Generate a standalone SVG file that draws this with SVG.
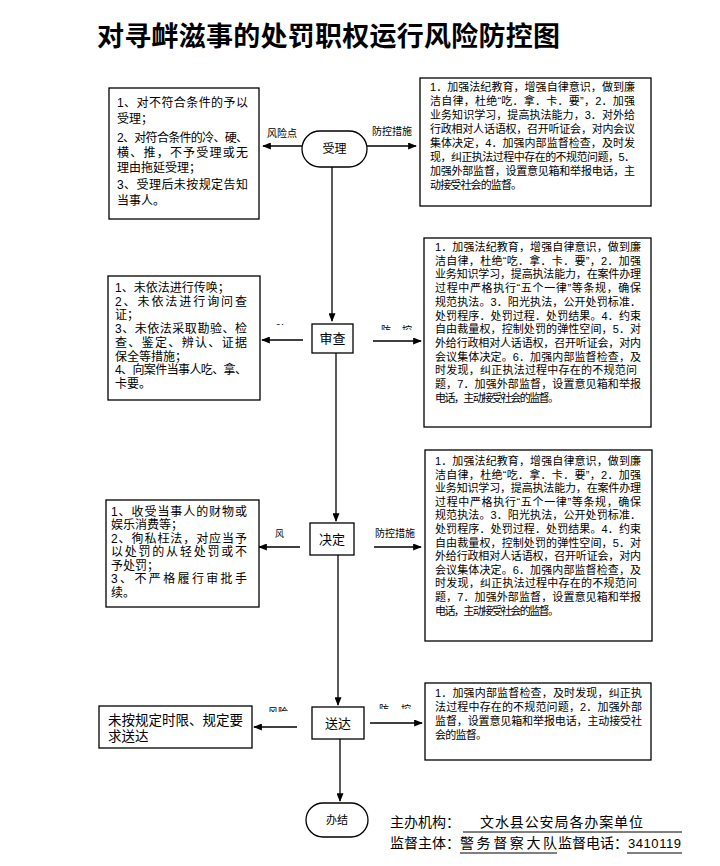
<svg xmlns="http://www.w3.org/2000/svg" width="720" height="866" viewBox="0 0 720 866">
<style>
.t{font-family:"Liberation Sans","Noto Sans CJK SC","Noto Sans CJK JP",sans-serif;fill:#000}
.l{font-size:12px}
.r{font-size:11px}
.n{font-size:13px}
.s{font-size:10px}
.box{fill:#fff;stroke:#000;stroke-width:1.3}
.ln{fill:none;stroke:#000;stroke-width:1.3}
.ul{stroke:#000;stroke-width:1}
</style>
<defs>
<marker id="ah" viewBox="0 0 10 8" refX="9" refY="4" markerWidth="9" markerHeight="7" markerUnits="userSpaceOnUse" orient="auto">
<path d="M0,0 L10,4 L0,8 Z" fill="#000"/>
</marker>
<clipPath id="c1"><rect x="276" y="319" width="10" height="6"/></clipPath>
<clipPath id="c2"><rect x="378" y="324" width="40" height="6"/></clipPath>
<clipPath id="c3"><rect x="264" y="706" width="30" height="6"/></clipPath>
<clipPath id="c4"><rect x="376" y="703" width="40" height="6"/></clipPath>
</defs>
<rect width="720" height="866" fill="#fff"/>

<text class="t" x="97" y="46" font-size="27" font-weight="bold" textLength="463">对寻衅滋事的处罚职权运行风险防控图</text>

<g id="connectors">
<path class="ln" d="M332,167 V321" marker-end="url(#ah)"/>
<path class="ln" d="M336,353 V521" marker-end="url(#ah)"/>
<path class="ln" d="M338,555 V705" marker-end="url(#ah)"/>
<path class="ln" d="M340,739 V801" marker-end="url(#ah)"/>
<path class="ln" d="M302,146 H263" marker-end="url(#ah)"/>
<path class="ln" d="M367,146 H416" marker-end="url(#ah)"/>
<path class="ln" d="M303,340 H262" marker-end="url(#ah)"/>
<path class="ln" d="M373,341 H421" marker-end="url(#ah)"/>
<path class="ln" d="M300,547 H259" marker-end="url(#ah)"/>
<path class="ln" d="M374,547 H421" marker-end="url(#ah)"/>
<path class="ln" d="M297,727 H254" marker-end="url(#ah)"/>
<path class="ln" d="M370,723 H422" marker-end="url(#ah)"/>
<text class="t s" x="282" y="137" text-anchor="middle">风险点</text>
<text class="t s" x="392" y="135" text-anchor="middle">防控措施</text>
<text class="t s" x="281" y="333" text-anchor="middle" clip-path="url(#c1)">风险点</text>
<g clip-path="url(#c2)"><text class="t s" x="381" y="334">防</text><text class="t s" x="402" y="334">控</text></g>
<text class="t" x="275" y="537" font-size="9">风</text>
<text class="t s" x="395" y="537" text-anchor="middle">防控措施</text>
<text class="t s" x="278" y="716" text-anchor="middle" clip-path="url(#c3)">风险</text>
<g clip-path="url(#c4)"><text class="t s" x="379" y="713">防</text><text class="t s" x="401" y="713">控</text></g>
</g>

<g id="n-accept">
<rect class="box" x="302" y="131" width="65" height="36" rx="18"/>
<text class="t" x="334.5" y="153" font-size="12" text-anchor="middle">受理</text>
</g>
<g id="n-review">
<rect class="box" x="312" y="324" width="41" height="29"/>
<text class="t n" x="332.5" y="343" text-anchor="middle">审查</text>
</g>
<g id="n-decide">
<rect class="box" x="310" y="523" width="44" height="32"/>
<text class="t n" x="332" y="544" text-anchor="middle">决定</text>
</g>
<g id="n-deliver">
<rect class="box" x="312" y="707" width="52" height="32"/>
<text class="t n" x="338" y="728" text-anchor="middle">送达</text>
</g>
<g id="n-close">
<rect class="box" x="306" y="803" width="62" height="34" rx="17"/>
<text class="t" x="337" y="824" font-size="11" text-anchor="middle">办结</text>
</g>

<g id="risk-accept">
<rect class="box" x="109" y="88" width="150" height="131"/>
<text class="t l"><tspan x="117" y="106.5" textLength="131">1、对不符合条件的予以</tspan><tspan x="117" y="122.5">受理；</tspan><tspan x="117" y="141.5" textLength="131">2、对符合条件的冷、硬、</tspan><tspan x="117" y="156.5" textLength="131">横、推，不予受理或无</tspan><tspan x="117" y="172">理由拖延受理；</tspan><tspan x="117" y="188.5" textLength="131">3、受理后未按规定告知</tspan><tspan x="117" y="204.5">当事人。</tspan></text>
</g>
<g id="ctrl-accept">
<rect class="box" x="420" y="78" width="231" height="128"/>
<text class="t r"><tspan x="430" y="91" textLength="205">1．加强法纪教育，增强自律意识，做到廉</tspan><tspan x="430" y="105" textLength="205">洁自律，杜绝“吃．拿．卡．要”，2．加强</tspan><tspan x="430" y="119" textLength="205">业务知识学习，提高执法能力，3．对外给</tspan><tspan x="430" y="133" textLength="205">行政相对人话语权，召开听证会，对内会议</tspan><tspan x="430" y="147" textLength="205">集体决定，4．加强内部监督检查，及时发</tspan><tspan x="430" y="161" textLength="205">现，纠正执法过程中存在的不规范问题，5．</tspan><tspan x="430" y="175" textLength="205">加强外部监督，设置意见箱和举报电话，主</tspan><tspan x="430" y="189" textLength="92">动接受社会的监督。</tspan></text>
</g>

<g id="risk-review">
<rect class="box" x="108" y="276" width="152" height="124"/>
<text class="t l"><tspan x="115" y="292">1、未依法进行传唤；</tspan><tspan x="115" y="305.7" textLength="132">2、未依法进行询问查</tspan><tspan x="115" y="319.4">证；</tspan><tspan x="115" y="333.1" textLength="132">3、未依法采取勘验、检</tspan><tspan x="115" y="346.8" textLength="132">查、鉴定、辨认、证据</tspan><tspan x="115" y="360.5">保全等措施；</tspan><tspan x="115" y="374.2" textLength="132">4、向案件当事人吃、拿、</tspan><tspan x="115" y="387.9">卡要。</tspan></text>
</g>
<g id="ctrl-review">
<rect class="box" x="424" y="238" width="227" height="189"/>
<text class="t r"><tspan x="435" y="251" textLength="206">1．加强法纪教育，增强自律意识，做到廉</tspan><tspan x="435" y="264.7" textLength="206">洁自律，杜绝“吃．拿．卡．要”，2．加强</tspan><tspan x="435" y="278.4" textLength="206">业务知识学习，提高执法能力，在案件办理</tspan><tspan x="435" y="292.1" textLength="206">过程中严格执行“五个一律”等条规，确保</tspan><tspan x="435" y="305.8" textLength="206">规范执法。3．阳光执法，公开处罚标准．</tspan><tspan x="435" y="319.5" textLength="206">处罚程序．处罚过程．处罚结果。4．约束</tspan><tspan x="435" y="333.2" textLength="206">自由裁量权，控制处罚的弹性空间，5．对</tspan><tspan x="435" y="346.9" textLength="206">外给行政相对人话语权，召开听证会，对内</tspan><tspan x="435" y="360.6" textLength="206">会议集体决定。6．加强内部监督检查，及</tspan><tspan x="435" y="374.3" textLength="202">时发现，纠正执法过程中存在的不规范问</tspan><tspan x="435" y="388" textLength="206">题，7．加强外部监督，设置意见箱和举报</tspan><tspan x="435" y="401.7" textLength="124">电话，主动接受社会的监督。</tspan></text>
</g>

<g id="risk-decide">
<rect class="box" x="106" y="500" width="153" height="107"/>
<text class="t l"><tspan x="111" y="515.5" textLength="136">1、收受当事人的财物或</tspan><tspan x="111" y="529">娱乐消费等；</tspan><tspan x="111" y="542.5" textLength="136">2、徇私枉法，对应当予</tspan><tspan x="111" y="556" textLength="136">以处罚的从轻处罚或不</tspan><tspan x="111" y="569.5">予处罚；</tspan><tspan x="111" y="583" textLength="136">3、不严格履行审批手</tspan><tspan x="111" y="596.5">续。</tspan></text>
</g>
<g id="ctrl-decide">
<rect class="box" x="425" y="450" width="227" height="191"/>
<text class="t r"><tspan x="435" y="465" textLength="206">1．加强法纪教育，增强自律意识，做到廉</tspan><tspan x="435" y="478.6" textLength="206">洁自律，杜绝“吃．拿．卡．要”，2．加强</tspan><tspan x="435" y="492.2" textLength="206">业务知识学习，提高执法能力，在案件办理</tspan><tspan x="435" y="505.8" textLength="206">过程中严格执行“五个一律”等条规，确保</tspan><tspan x="435" y="519.4" textLength="206">规范执法。3．阳光执法，公开处罚标准．</tspan><tspan x="435" y="533" textLength="206">处罚程序．处罚过程．处罚结果。4．约束</tspan><tspan x="435" y="546.6" textLength="206">自由裁量权，控制处罚的弹性空间，5．对</tspan><tspan x="435" y="560.2" textLength="206">外给行政相对人话语权，召开听证会，对内</tspan><tspan x="435" y="573.8" textLength="206">会议集体决定。6．加强内部监督检查，及</tspan><tspan x="435" y="587.4" textLength="202">时发现，纠正执法过程中存在的不规范问</tspan><tspan x="435" y="601" textLength="206">题，7．加强外部监督，设置意见箱和举报</tspan><tspan x="435" y="614.6" textLength="124">电话，主动接受社会的监督。</tspan></text>
</g>

<g id="risk-deliver">
<rect class="box" x="99" y="706" width="153" height="42"/>
<text class="t" font-size="13.5"><tspan x="108" y="725" textLength="135">未按规定时限、规定要</tspan><tspan x="108" y="741">求送达</tspan></text>
</g>
<g id="ctrl-deliver">
<rect class="box" x="425" y="683" width="226" height="77"/>
<text class="t r"><tspan x="435" y="697" textLength="207">1．加强内部监督检查，及时发现，纠正执</tspan><tspan x="435" y="711" textLength="207">法过程中存在的不规范问题，2．加强外部</tspan><tspan x="435" y="725" textLength="207">监督，设置意见箱和举报电话，主动接受社</tspan><tspan x="435" y="739" textLength="52">会的监督。</tspan></text>
</g>

<g id="footer">
<text class="t" x="390" y="827" font-size="14">主办机构：</text>
<text class="t" x="480" y="827" font-size="14" textLength="163">文水县公安局各办案单位</text>
<line class="ul" x1="463" y1="832" x2="682" y2="832"/>
<text class="t" x="390" y="848" font-size="14">监督主体：</text>
<text class="t" x="460" y="848" font-size="14" textLength="97">警务督察大队</text>
<line class="ul" x1="460" y1="853" x2="557" y2="853"/>
<text class="t" x="558" y="848" font-size="14">监督电话：</text>
<text class="t" x="628" y="848" font-size="13" textLength="53">3410119</text>
<line class="ul" x1="627" y1="853" x2="682" y2="853"/>
</g>
</svg>
